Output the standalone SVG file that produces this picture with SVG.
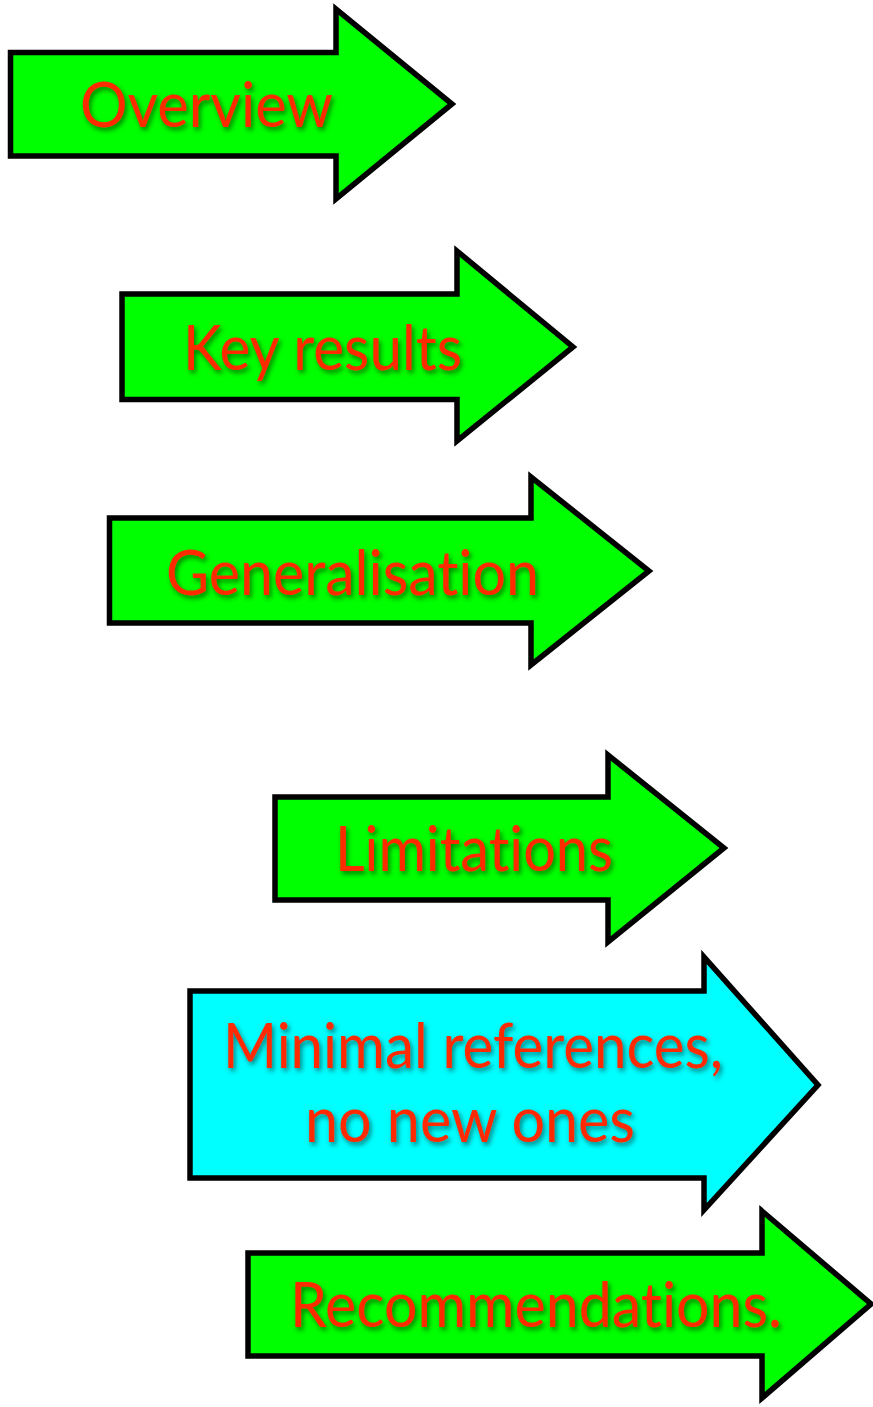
<svg xmlns="http://www.w3.org/2000/svg" width="873" height="1407" viewBox="0 0 873 1407">
<defs>
<filter id="shadow" x="-10%" y="-30%" width="120%" height="160%">
<feDropShadow dx="2" dy="3" stdDeviation="2.5" flood-color="#000" flood-opacity="0.5"/>
</filter>
</defs>
<style>
.arrow{stroke:#000;stroke-width:5.5;stroke-linejoin:miter;stroke-miterlimit:10}
.green{fill:#00ff00}
.cyan{fill:#00ffff}
.label{font-family:Lato,"Open Sans","Liberation Sans",sans-serif;font-size:61px;fill:#ff2a00;font-variant-ligatures:none;font-feature-settings:"liga" 0;filter:url(#shadow)}
</style>
<rect width="873" height="1407" fill="#fff"/>
<g id="overview">
<polygon class="arrow green" points="10.5,52.5 336,52.5 336,9 452,104 336,199 336,156 10.5,156"/>
<text class="label" x="80" y="127" textLength="253" lengthAdjust="spacingAndGlyphs">Overview</text>
</g>
<g id="key-results">
<polygon class="arrow green" points="122,294 457,294 457,251 573,347 457,441 457,399.5 122,399.5"/>
<text class="label" x="183" y="370" textLength="279" lengthAdjust="spacingAndGlyphs">Key results</text>
</g>
<g id="generalisation">
<polygon class="arrow green" points="109.5,518 531,518 531,477 649,571 531,665 531,623 109.5,623"/>
<text class="label" x="166" y="595" textLength="373" lengthAdjust="spacingAndGlyphs">Generalisation</text>
</g>
<g id="limitations">
<polygon class="arrow green" points="275,797 608,797 608,755 724,848 608,942 608,900 275,900"/>
<text class="label" x="335" y="871" textLength="278" lengthAdjust="spacingAndGlyphs">Limitations</text>
</g>
<g id="minimal-references">
<polygon class="arrow cyan" points="190,991 704,991 704,957 818,1085 704,1210 704,1178 190,1178"/>
<text class="label" x="223" y="1068" textLength="500" lengthAdjust="spacingAndGlyphs">Minimal references,</text>
<text class="label" x="305" y="1142" textLength="330" lengthAdjust="spacingAndGlyphs">no new ones</text>
</g>
<g id="recommendations">
<polygon class="arrow green" points="248,1253 762,1253 762,1211 871,1304 762,1398 762,1356 248,1356"/>
<text class="label" x="290" y="1327" textLength="492" lengthAdjust="spacingAndGlyphs">Recommendations.</text>
</g>
<g id="connectors"/>
</svg>
